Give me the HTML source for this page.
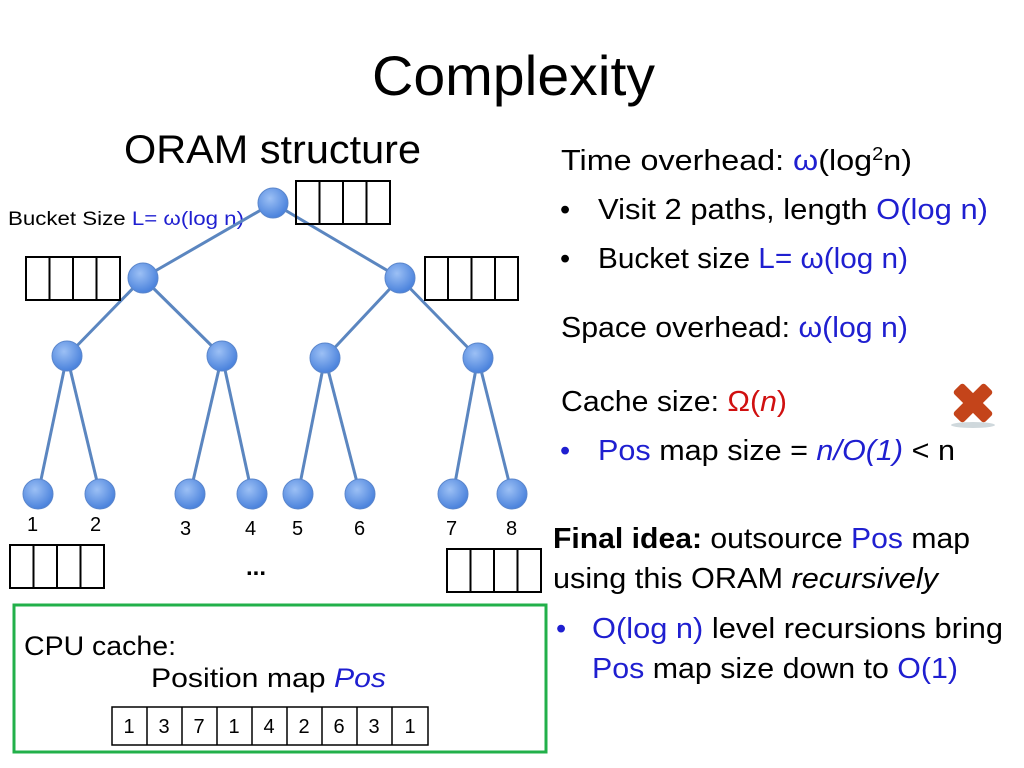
<!DOCTYPE html>
<html><head><meta charset="utf-8"><style>
body{margin:0;background:#fff;width:1024px;height:768px;overflow:hidden}
svg{display:block}
text{font-family:"Liberation Sans","DejaVu Sans",sans-serif}
.b{fill:#1f1fd0}
</style></head><body>
<svg width="1024" height="768" viewBox="0 0 1024 768">
<defs><radialGradient id="g" cx="40%" cy="35%" r="65%"><stop offset="0" stop-color="#9cc0f5"/><stop offset="1" stop-color="#4a82dc"/></radialGradient></defs>
<text x="372" y="95" font-size="56" textLength="283" lengthAdjust="spacingAndGlyphs">Complexity</text>
<text x="124" y="163" font-size="40" textLength="297" lengthAdjust="spacingAndGlyphs">ORAM structure</text>
<text x="8" y="225" font-size="19" textLength="236" lengthAdjust="spacingAndGlyphs">Bucket Size <tspan class="b">L= ω(log n)</tspan></text>
<g stroke="#5b86c0" stroke-width="3">
<line x1="273" y1="203" x2="143" y2="278"/><line x1="273" y1="203" x2="400" y2="278"/>
<line x1="143" y1="278" x2="67" y2="356"/><line x1="143" y1="278" x2="222" y2="356"/>
<line x1="400" y1="278" x2="325" y2="358"/><line x1="400" y1="278" x2="478" y2="358"/>
<line x1="67" y1="356" x2="38" y2="494"/><line x1="67" y1="356" x2="100" y2="494"/>
<line x1="222" y1="356" x2="190" y2="494"/><line x1="222" y1="356" x2="252" y2="494"/>
<line x1="325" y1="358" x2="298" y2="494"/><line x1="325" y1="358" x2="360" y2="494"/>
<line x1="478" y1="358" x2="453" y2="494"/><line x1="478" y1="358" x2="512" y2="494"/>
</g>
<g fill="url(#g)" stroke="#5a86cc" stroke-width="1">
<circle cx="273" cy="203" r="15"/><circle cx="143" cy="278" r="15"/><circle cx="400" cy="278" r="15"/>
<circle cx="67" cy="356" r="15"/><circle cx="222" cy="356" r="15"/><circle cx="325" cy="358" r="15"/><circle cx="478" cy="358" r="15"/>
<circle cx="38" cy="494" r="15"/><circle cx="100" cy="494" r="15"/><circle cx="190" cy="494" r="15"/><circle cx="252" cy="494" r="15"/>
<circle cx="298" cy="494" r="15"/><circle cx="360" cy="494" r="15"/><circle cx="453" cy="494" r="15"/><circle cx="512" cy="494" r="15"/>
</g>
<g fill="none" stroke="#000" stroke-width="2">
<rect x="296" y="181" width="94" height="43"/><path d="M319.5 181v43M343 181v43M366.5 181v43"/>
<rect x="26" y="257" width="94" height="43"/><path d="M49.5 257v43M73 257v43M96.5 257v43"/>
<rect x="425" y="257" width="93" height="43"/><path d="M448 257v43M471.5 257v43M495 257v43"/>
<rect x="10" y="545" width="94" height="43"/><path d="M33.5 545v43M57 545v43M80.5 545v43"/>
<rect x="447" y="549" width="94" height="43"/><path d="M470.5 549v43M494 549v43M517.5 549v43"/>
</g>
<g font-size="20">
<text x="27" y="531">1</text><text x="90" y="531">2</text><text x="180" y="535">3</text><text x="245" y="535">4</text>
<text x="292" y="535">5</text><text x="354" y="535">6</text><text x="446" y="535">7</text><text x="506" y="535">8</text>
</g>
<text x="246" y="575" font-size="24" font-weight="bold">...</text>
<rect x="14" y="605" width="532" height="147" fill="none" stroke="#22b04a" stroke-width="3"/>
<text x="24" y="655" font-size="27" textLength="152" lengthAdjust="spacingAndGlyphs">CPU cache:</text>
<text x="151" y="687" font-size="27" textLength="235" lengthAdjust="spacingAndGlyphs">Position map <tspan class="b" font-style="italic">Pos</tspan></text>
<g fill="none" stroke="#000" stroke-width="1.5"><rect x="112" y="707" width="316" height="38"/>
<path d="M147 707v38M182 707v38M217 707v38M252 707v38M287 707v38M322 707v38M357 707v38M392 707v38"/></g>
<g font-size="20" text-anchor="middle">
<text x="129" y="733">1</text><text x="164" y="733">3</text><text x="199" y="733">7</text><text x="234" y="733">1</text><text x="269" y="733">4</text><text x="304" y="733">2</text><text x="339" y="733">6</text><text x="374" y="733">3</text><text x="410" y="733">1</text>
</g>
<g font-size="29" lengthAdjust="spacingAndGlyphs">
<text x="561" y="170" textLength="351" lengthAdjust="spacingAndGlyphs">Time overhead: <tspan class="b">ω</tspan>(log<tspan font-size="18" dy="-10">2</tspan><tspan dy="10">n)</tspan></text>
<text x="560" y="219">•</text><text x="598" y="219" textLength="390" lengthAdjust="spacingAndGlyphs">Visit 2 paths, length <tspan class="b">O(log n)</tspan></text>
<text x="560" y="268">•</text><text x="598" y="268" textLength="310" lengthAdjust="spacingAndGlyphs">Bucket size <tspan class="b">L= ω(log n)</tspan></text>
<text x="561" y="337" textLength="347" lengthAdjust="spacingAndGlyphs">Space overhead: <tspan class="b">ω</tspan><tspan class="b">(log n)</tspan></text>
<text x="561" y="411" textLength="226" lengthAdjust="spacingAndGlyphs">Cache size: <tspan fill="#d01010">Ω(<tspan font-style="italic">n</tspan>)</tspan></text>
<text x="560" y="460" class="b">•</text><text x="598" y="460" textLength="357" lengthAdjust="spacingAndGlyphs"><tspan class="b">Pos</tspan> map size =  <tspan class="b" font-style="italic">n/O(1)</tspan> &lt; n</text>
<text x="553" y="548" textLength="417" lengthAdjust="spacingAndGlyphs"><tspan font-weight="bold">Final idea:</tspan> outsource <tspan class="b">Pos</tspan> map</text>
<text x="553" y="588" textLength="385" lengthAdjust="spacingAndGlyphs">using this ORAM <tspan font-style="italic">recursively</tspan></text>
<text x="556" y="638" class="b">•</text><text x="592" y="638" textLength="411" lengthAdjust="spacingAndGlyphs"><tspan class="b">O(log n)</tspan> level recursions bring</text>
<text x="592" y="678" textLength="366" lengthAdjust="spacingAndGlyphs"><tspan class="b">Pos</tspan> map size down to <tspan class="b">O(1)</tspan></text>
</g>
<g transform="translate(973,403) rotate(45)">
<ellipse cx="0" cy="22" rx="22" ry="3" fill="#cfd8dc" transform="rotate(-45)"/>
<rect x="-22" y="-7" width="44" height="14" rx="3" fill="#c4441a"/>
<rect x="-7" y="-22" width="14" height="44" rx="3" fill="#c4441a"/>
</g>
</svg>
</body></html>
